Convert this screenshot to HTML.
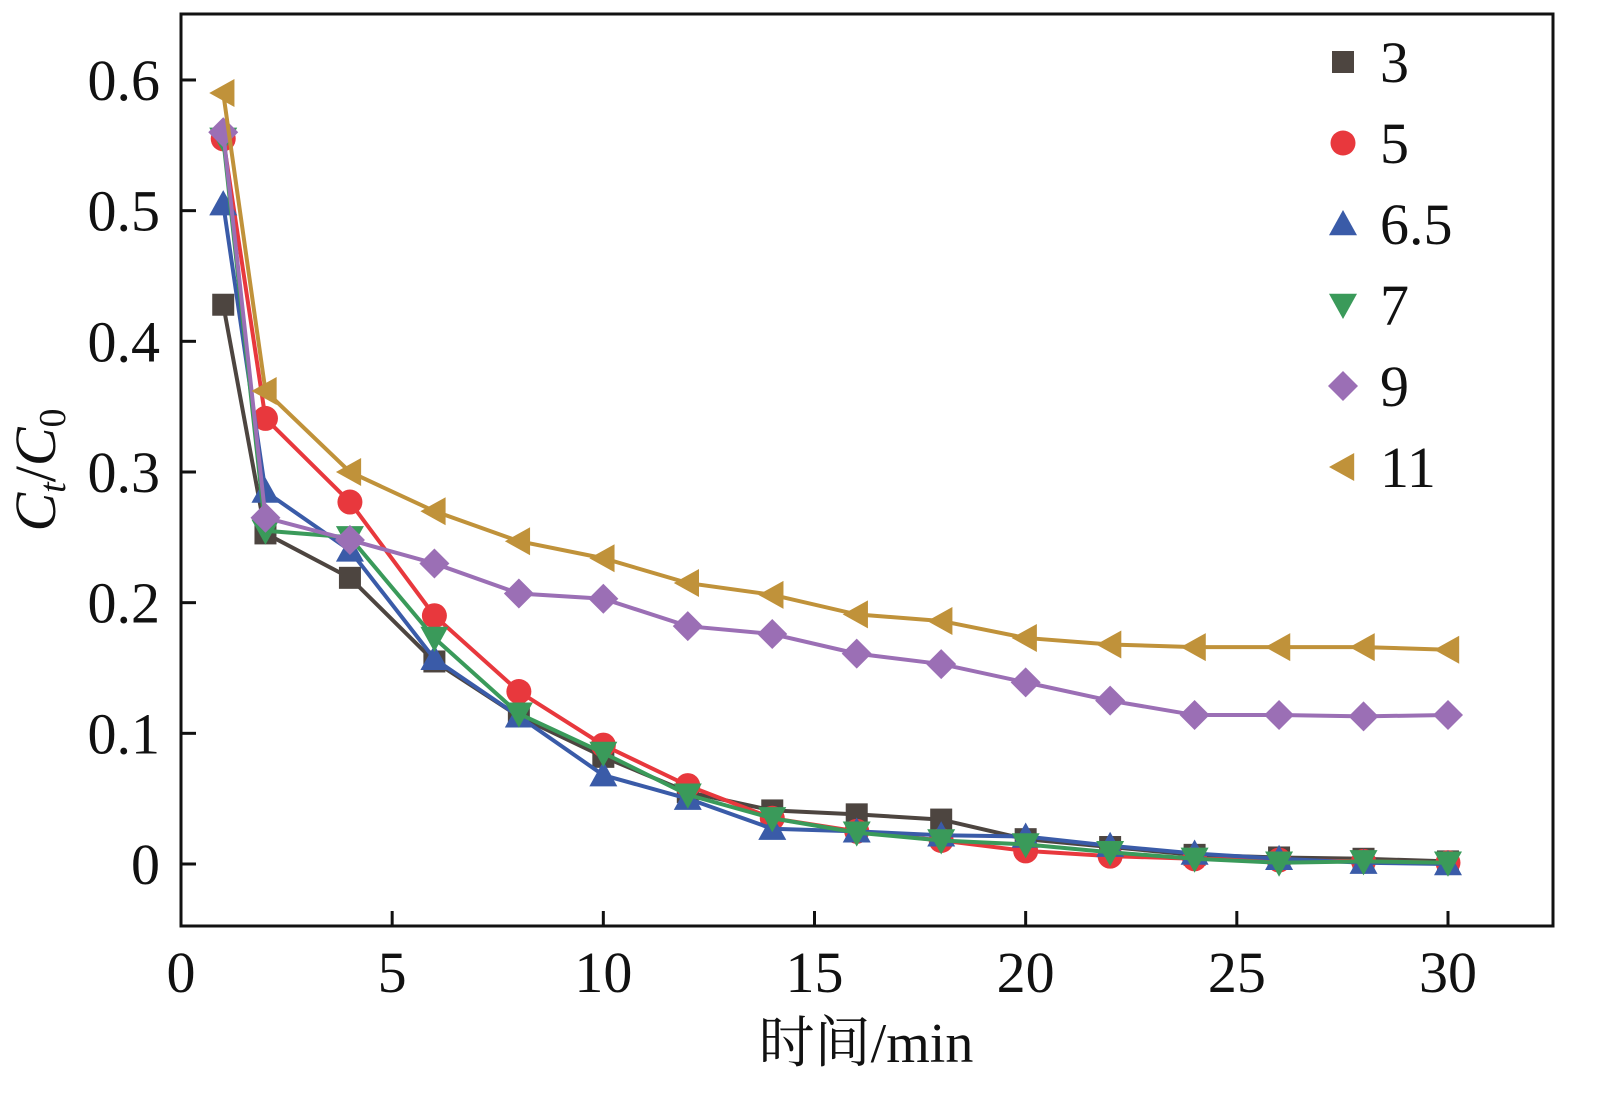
<!DOCTYPE html>
<html><head><meta charset="utf-8"><style>
html,body{margin:0;padding:0;background:#fff;}
svg text{font-family:"Liberation Serif","Noto Serif CJK SC",serif;fill:#111;}
</style></head><body>
<svg id="chart" width="1614" height="1111" viewBox="0 0 1614 1111" xmlns="http://www.w3.org/2000/svg">
<rect x="181" y="14" width="1372" height="912" fill="none" stroke="#111" stroke-width="3"/>
<g id="axes"></g>
<g id="series"></g>
<g id="legend"></g>
<text x="55" y="470" font-size="58" text-anchor="middle" transform="rotate(-90 55 470)"><tspan font-style="italic">C</tspan><tspan font-style="italic" font-size="38" dy="10">t</tspan><tspan dy="-10">/</tspan><tspan font-style="italic">C</tspan><tspan font-size="38" dy="10">0</tspan></text>
<text x="866" y="1062" font-size="56" text-anchor="middle">时间/min</text>
</svg>
<script>
const xValues=[1,2,4,6,8,10,12,14,16,18,20,22,24,26,28,30];
const seriesNames=["3","5","6.5","7","9","11"];
const s3=[0.428,0.253,0.219,0.155,0.113,0.082,0.055,0.041,0.038,0.034,0.019,0.013,0.007,0.005,0.004,0.002];
const s5=[0.555,0.341,0.277,0.19,0.132,0.091,0.06,0.035,0.025,0.018,0.01,0.006,0.004,0.003,0.002,0.001];
const s65=[0.505,0.285,0.24,0.157,0.113,0.068,0.05,0.027,0.025,0.022,0.021,0.014,0.008,0.004,0.001,0.0];
const s7=[0.555,0.255,0.25,0.173,0.115,0.085,0.053,0.035,0.024,0.018,0.015,0.009,0.004,0.001,0.002,0.001];
const s9=[0.56,0.265,0.248,0.23,0.207,0.203,0.182,0.176,0.161,0.153,0.139,0.125,0.114,0.114,0.113,0.114];
const s11=[0.59,0.362,0.3,0.27,0.247,0.234,0.215,0.206,0.191,0.186,0.173,0.168,0.166,0.166,0.166,0.164];
const xTicks=[0,5,10,15,20,25,30];
const yTicks=[0,0.1,0.2,0.3,0.4,0.5,0.6];
const yTickLabels=["0","0.1","0.2","0.3","0.4","0.5","0.6"];

const NS="http://www.w3.org/2000/svg";
const X=v=>181+v*42.233;
const Y=v=>864-v*1306.7;
function mk(tag,attrs,parent){const e=document.createElementNS(NS,tag);for(const k in attrs)e.setAttribute(k,attrs[k]);parent.appendChild(e);return e;}
const axes=document.getElementById('axes');
xTicks.forEach(t=>{
  const l=mk('line',{x1:X(t),x2:X(t),y1:926,y2:911,stroke:'#111','stroke-width':3},axes);
  
  
  const tx=mk('text',{x:X(t),y:992,'font-size':58,'text-anchor':'middle'},axes);
  tx.textContent=t;
  
  
});
yTicks.forEach((t,i)=>{
  const l=mk('line',{x1:181,x2:196,y1:Y(t),y2:Y(t),stroke:'#111','stroke-width':3},axes);
  
  
  const tx=mk('text',{x:160,y:Y(t)+20,'font-size':58,'text-anchor':'end'},axes);
  tx.textContent=yTickLabels[i];
  
  
});
const colors=["#4d4540","#e8383d","#3a5ba8","#3a9a5a","#9b6fb5","#c0923a"];
const shapes=["square","circle","up","down","diamond","left"];
const data=[s3,s5,s65,s7,s9,s11];
function marker(g,shape,cx,cy,c){
  const r=14;let e;
  if(shape==='square')e=mk('rect',{x:cx-11,y:cy-11,width:22,height:22,fill:c},g);
  else if(shape==='circle')e=mk('circle',{cx:cx,cy:cy,r:12.5,fill:c},g);
  else{let p;
    if(shape==='up')p=[[cx,cy-r],[cx+r,cy+r*0.8],[cx-r,cy+r*0.8]];
    if(shape==='down')p=[[cx,cy+r],[cx+r,cy-r*0.8],[cx-r,cy-r*0.8]];
    if(shape==='diamond')p=[[cx,cy-15],[cx+15,cy],[cx,cy+15],[cx-15,cy]];
    if(shape==='left')p=[[cx-r,cy],[cx+r*0.8,cy-r],[cx+r*0.8,cy+r]];
    e=mk('polygon',{points:p.map(q=>q.join(',')).join(' '),fill:c},g);}
  return e;
}
const sg=document.getElementById('series');
data.forEach((arr,si)=>{
  const g=mk('g',{},sg);
  
  
  const pl=mk('polyline',{points:arr.map((v,i)=>X(xValues[i])+','+Y(v)).join(' '),fill:'none',stroke:colors[si],'stroke-width':4},g);
  
  
  arr.forEach((v,i)=>{
    const m=marker(g,shapes[si],X(xValues[i]),Y(v),colors[si]);
    
    
  });
});
const lg=document.getElementById('legend');
seriesNames.forEach((n,i)=>{
  const y=62+i*81;
  const g=mk('g',{},lg);
  
  
  marker(g,shapes[i],1343,y,colors[i]);
  const t=mk('text',{x:1380,y:y+20,'font-size':58},g);
  t.textContent=n;
});
</script>
</body></html>
